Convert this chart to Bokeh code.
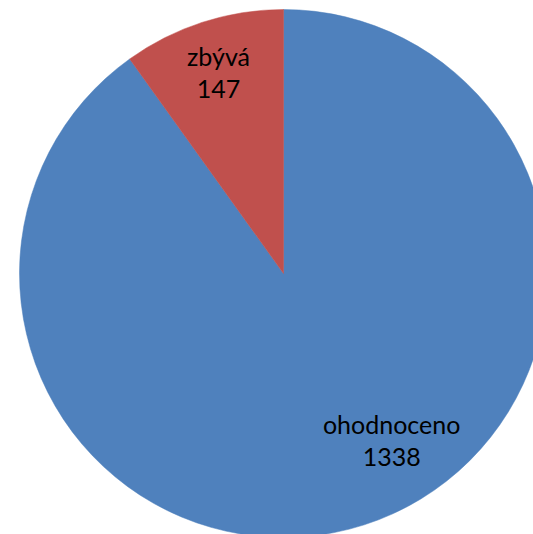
import math
from bokeh.plotting import figure
from bokeh.models import Range1d, ColumnDataSource
from bokeh.core.properties import value
from bokeh.embed import file_html
from bokeh.resources import INLINE

categories = ["ohodnoceno", "zbývá"]
counts = [1338, 147]
colors = ["#4F81BD", "#C0504D"]

W, H = 533, 534
R_PX = 264.0
CX_PX, CY_PX = 283.0, 273.0  # center in figure pixels from top-left

total = sum(counts)
# red slice starts at 12 o'clock going counterclockwise; blue fills the rest
start_red = math.pi / 2
end_red = start_red + 2 * math.pi * counts[1] / total
starts = [end_red, start_red]
ends = [start_red + 2 * math.pi, end_red]

# label anchor placement (best fit positions)
label_angles_deg = [-58.5, 108.7]
label_radius = [0.784, 0.768]
lx = [r * math.cos(math.radians(a)) for r, a in zip(label_radius, label_angles_deg)]
ly = [r * math.sin(math.radians(a)) for r, a in zip(label_radius, label_angles_deg)]

src = ColumnDataSource(dict(start=starts, end=ends, color=colors,
                            lx=lx, ly=ly, name=categories,
                            num=[str(c) for c in counts]))

p = figure(width=W, height=H, output_backend="svg", toolbar_location=None,
           x_range=Range1d(-CX_PX / R_PX, (W - CX_PX) / R_PX),
           y_range=Range1d(-(H - CY_PX) / R_PX, CY_PX / R_PX),
           min_border=0)
p.axis.visible = False
p.grid.visible = False
p.outline_line_color = None
p.background_fill_color = "white"
p.border_fill_color = "white"

p.wedge(x=0, y=0, radius=1.0, start_angle="start", end_angle="end",
        fill_color="color", line_color="color", line_width=0.5, source=src)

p.text(x="lx", y="ly", text="name", source=src, text_align="center",
       text_baseline="alphabetic", y_offset=-25.5,
       text_font=value("Lato"), text_font_size="25px", text_color="black")
p.text(x="lx", y="ly", text="num", source=src, text_align="center",
       text_baseline="alphabetic", y_offset=7.5,
       text_font=value("Lato"), text_font_size="25px", text_color="black")

open("out.html", "w").write(file_html(p, INLINE))
